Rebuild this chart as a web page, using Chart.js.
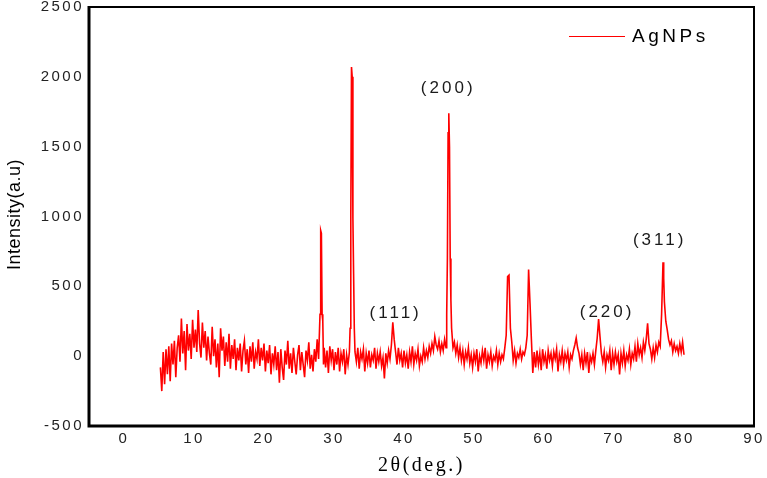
<!DOCTYPE html>
<html>
<head>
<meta charset="utf-8">
<script src="https://cdn.jsdelivr.net/npm/chart.js@4/dist/chart.umd.min.js"></script>
<style>
  html, body { margin: 0; padding: 0; background: #fff; }
  #wrap { width: 767px; height: 478px; }
</style>
</head>
<body>
<div id="wrap"><canvas id="xrdChart" width="767" height="478"></canvas></div>
<script>

// =====================================
// DATA
// =====================================

const twoTheta = [
    5.2, 5.4, 5.6, 5.8, 6.0, 6.2, 6.4, 6.6, 6.8, 7.0,
    7.2, 7.4, 7.6, 7.8, 8.0, 8.2, 8.4, 8.6, 8.8, 9.0,
    9.2, 9.4, 9.6, 9.8, 10.0, 10.2, 10.4, 10.6, 10.8, 11.0,
    11.2, 11.4, 11.6, 11.8, 12.0, 12.2, 12.4, 12.6, 12.8, 13.0,
    13.2, 13.4, 13.6, 13.8, 14.0, 14.2, 14.4, 14.6, 14.8, 15.0,
    15.2, 15.4, 15.6, 15.8, 16.0, 16.2, 16.4, 16.6, 16.8, 17.0,
    17.2, 17.4, 17.6, 17.8, 18.0, 18.2, 18.4, 18.6, 18.8, 19.0,
    19.2, 19.4, 19.6, 19.8, 20.0, 20.2, 20.4, 20.6, 20.8, 21.0,
    21.2, 21.4, 21.6, 21.8, 22.0, 22.2, 22.4, 22.6, 22.8, 23.0,
    23.2, 23.4, 23.6, 23.8, 24.0, 24.2, 24.4, 24.6, 24.8, 25.0,
    25.2, 25.4, 25.6, 25.8, 26.0, 26.2, 26.4, 26.6, 26.8, 27.0,
    27.2, 27.4, 27.6, 27.8, 28.0, 28.1, 28.2, 28.3, 28.4, 28.5,
    28.6, 28.8, 29.0, 29.2, 29.4, 29.6, 29.8, 30.0, 30.2, 30.4,
    30.6, 30.8, 31.0, 31.2, 31.4, 31.6, 31.8, 32.0, 32.2, 32.3,
    32.4, 32.5, 32.6, 32.7, 32.8, 32.9, 33.0, 33.2, 33.4, 33.6,
    33.8, 34.0, 34.2, 34.4, 34.6, 34.8, 35.0, 35.2, 35.4, 35.6,
    35.8, 36.0, 36.2, 36.4, 36.6, 36.8, 37.0, 37.2, 37.4, 37.6,
    37.8, 38.0, 38.2, 38.4, 38.6, 38.8, 39.0, 39.2, 39.4, 39.6,
    39.8, 40.0, 40.2, 40.4, 40.6, 40.8, 41.0, 41.2, 41.4, 41.6,
    41.8, 42.0, 42.2, 42.4, 42.6, 42.8, 43.0, 43.2, 43.4, 43.6,
    43.8, 44.0, 44.2, 44.4, 44.6, 44.8, 45.0, 45.2, 45.4, 45.6,
    45.8, 46.0, 46.1, 46.2, 46.3, 46.4, 46.5, 46.6, 46.7, 46.8,
    47.0, 47.2, 47.4, 47.6, 47.8, 48.0, 48.2, 48.4, 48.6, 48.8,
    49.0, 49.2, 49.4, 49.6, 49.8, 50.0, 50.2, 50.4, 50.6, 50.8,
    51.0, 51.2, 51.4, 51.6, 51.8, 52.0, 52.2, 52.4, 52.6, 52.8,
    53.0, 53.2, 53.4, 53.6, 53.8, 54.0, 54.2, 54.4, 54.6, 54.8,
    55.0, 55.2, 55.4, 55.6, 55.8, 56.0, 56.2, 56.4, 56.6, 56.8,
    57.0, 57.2, 57.4, 57.6, 57.8, 57.9, 58.0, 58.2, 58.4, 58.6,
    58.8, 59.0, 59.2, 59.4, 59.6, 59.8, 60.0, 60.2, 60.4, 60.6,
    60.8, 61.0, 61.2, 61.4, 61.6, 61.8, 62.0, 62.2, 62.4, 62.6,
    62.8, 63.0, 63.2, 63.4, 63.6, 63.8, 64.0, 64.2, 64.4, 64.6,
    64.8, 65.0, 65.2, 65.4, 65.6, 65.8, 66.0, 66.2, 66.4, 66.6,
    66.8, 67.0, 67.2, 67.4, 67.6, 67.8, 68.0, 68.2, 68.4, 68.6,
    68.8, 69.0, 69.2, 69.4, 69.6, 69.8, 70.0, 70.2, 70.4, 70.6,
    70.8, 71.0, 71.2, 71.4, 71.6, 71.8, 72.0, 72.2, 72.4, 72.6,
    72.8, 73.0, 73.2, 73.4, 73.6, 73.8, 74.0, 74.2, 74.4, 74.6,
    74.8, 75.0, 75.2, 75.4, 75.6, 75.8, 76.0, 76.2, 76.4, 76.6,
    76.8, 77.0, 77.1, 77.2, 77.4, 77.6, 77.8, 78.0, 78.2, 78.4,
    78.6, 78.8, 79.0, 79.2, 79.4, 79.6, 79.8, 80.0
];

const intensity = [
    -80, -250, 30, -200, 50, -130, 70, -180, 90, -60,
    110, -150, 60, 150, -40, 270, 20, 180, -100, 230,
    40, 160, -20, 260, 60, 190, 30, 330, 90, -10,
    240, 60, 180, -30, 140, 20, -60, 210, 0, 120,
    -80, 90, -150, 200, 40, 140, -70, 100, -40, 160,
    -90, 80, -20, 120, -100, 60, -30, 90, -110, 40,
    110, -60, 50, -120, 70, -40, 100, -90, 30, -20,
    120, -70, 60, -30, 90, -110, 40, -50, 80, -130,
    20, -60, 70, -100, 30, -190, 50, -80, -170, 40,
    -60, 110, -90, 20, -120, 60, -40, -130, 10, 80,
    -100, 30, -60, -150, 40, -30, 100, -90, 10, -110,
    50, -40, 120, -20, 300, 900, 880, 300, 250, -60,
    60, -80, 40, -120, 70, -30, 50, -100, 30, -60,
    60, -110, 20, -40, 50, -130, 10, -60, 30, 200,
    1000, 2070, 2000, 990, 590, 200, 30, -40, 60, -90,
    30, -20, 50, -110, 20, -50, 40, -80, 10, -30,
    60, -90, 20, -40, 30, -70, -10, -160, 20, -50,
    40, -20, 80, 243, 120, 30, -60, 60, -30, 20,
    -80, 40, -50, 10, -90, 30, -40, 70, -60, 20,
    -30, 50, -70, 0, -40, 60, -20, 40, -10, 70,
    20, 90, 40, 140, 80, 50, 110, 30, 90, 40,
    120, 60, 300, 700, 1600, 1740, 1500, 700, 400, 200,
    60, 100, 20, 80, -10, 60, -30, 40, -60, 30,
    -20, 60, -50, 10, -80, 20, -40, 50, -110, 0,
    -50, 40, -30, 60, -90, 10, -40, 30, -70, 0,
    -30, 40, -60, 20, -40, 10, -20, 60, 150, 570,
    580, 200, 100, -30, 40, -50, 20, -10, 50, -20,
    30, 10, 60, 150, 620, 500, 380, 120, -120, 30,
    -80, 40, -60, 20, -100, 50, -40, 10, -90, 40,
    -30, 20, -70, 30, -20, 50, -110, 10, -40, 40,
    -60, 20, -30, 30, -80, 10, -20, 40, 80, 130,
    60, 20, -60, 10, -100, 20, -50, 30, -120, 0,
    -40, 20, -60, 40, 130, 265, 140, 20, -40, 30,
    -80, 10, -30, 40, -100, 20, -60, 30, -40, 10,
    -130, 20, -50, 40, -70, 10, -30, 50, -60, 20,
    -20, 70, -40, 90, 10, 60, -10, 100, 40, 120,
    236, 90, 50, -20, 60, -10, 80, 30, 100, 70,
    300, 673, 560, 390, 250, 190, 120, 80, 110, 30,
    90, 40, 70, 20, 90, 30, 100, 10
];

const xTicks = [0, 10, 20, 30, 40, 50, 60, 70, 80, 90];
const yTicks = [-500, 0, 500, 1000, 1500, 2000, 2500];

// peak labels (hkl) and where they sit, in data units
const peakNames = ["(111)", "(200)", "(220)", "(311)"];
const peakNameX = [38.6, 46.1, 68.8, 76.3];
const peakNameY = [310, 1920, 315, 830];

const seriesName = "AgNPs";
const yTitle = "Intensity(a.u)";


// =====================================
// WIDE LETTERS FOR THE AXIS TEXT
// =====================================

const spacing = {

    id: "spacing",

    beforeDraw(chart){
        chart.ctx.letterSpacing = "2.5px";
    },

    afterDatasetsDraw(chart){
        chart.ctx.letterSpacing = "0px";
    }
};


// =====================================
// FRAME, LEGEND, Y TITLE, PEAK LABELS
// =====================================

const extras = {

    id: "extras",

    afterDraw(chart){

        const ctx = chart.ctx;
        const a = chart.chartArea;
        const xs = chart.scales.x;
        const ys = chart.scales.y;

        ctx.save();

        // box round the plot
        ctx.strokeStyle = "#000";
        ctx.lineWidth = 2;
        ctx.beginPath();
        ctx.moveTo(a.left, a.top);
        ctx.lineTo(a.right, a.top);
        ctx.lineTo(a.right, a.bottom);
        ctx.stroke();

        ctx.lineWidth = 3;
        ctx.beginPath();
        ctx.moveTo(a.left, a.top - 1);
        ctx.lineTo(a.left, a.bottom);
        ctx.lineTo(a.right + 1, a.bottom);
        ctx.stroke();

        // legend
        ctx.strokeStyle = "#ff0000";
        ctx.lineWidth = 1;
        ctx.beginPath();
        ctx.moveTo(569, 36.5);
        ctx.lineTo(625, 36.5);
        ctx.stroke();

        ctx.fillStyle = "#000";
        ctx.letterSpacing = "3.5px";
        ctx.font = "19px 'Liberation Sans', Arial, sans-serif";
        ctx.textAlign = "left";
        ctx.textBaseline = "middle";
        ctx.fillText(seriesName, 632, 37);

        // y title
        ctx.save();
        ctx.translate(15, (a.top + a.bottom) / 2 - 2);
        ctx.rotate(-Math.PI / 2);
        ctx.letterSpacing = "0.5px";
        ctx.font = "18px 'Liberation Sans', Arial, sans-serif";
        ctx.textAlign = "center";
        ctx.fillText(yTitle, 0, 0);
        ctx.restore();

        // peak labels
        ctx.fillStyle = "#1a1a1a";
        ctx.letterSpacing = "3px";
        ctx.font = "17px 'Liberation Sans', Arial, sans-serif";
        ctx.textAlign = "center";

        peakNames.forEach((name, i) => {

            ctx.fillText(
                name,
                xs.getPixelForValue(peakNameX[i]) + 1.5,
                ys.getPixelForValue(peakNameY[i])
            );
        });

        ctx.restore();
    }
};


// =====================================
// CHART
// =====================================

const xrdChart =
new Chart(

    document.getElementById(
        "xrdChart"
    ),

    {

        type: "line",

        data: {

            datasets: [{

                label: seriesName,

                data: twoTheta.map((t, i) => ({ x: t, y: intensity[i] })),

                borderColor: "#ff0000",

                borderWidth: 1.6,

                pointRadius: 0,

                tension: 0
            }]
        },

        options: {

            responsive: false,

            animation: false,

            layout: {
                padding: { top: 7, right: 13, bottom: 0, left: 0 }
            },

            plugins: {
                legend: { display: false },
                tooltip: { enabled: false }
            },

            scales: {

                x: {

                    type: "linear",

                    min: -5,
                    max: 90,

                    afterBuildTicks: (s) => {
                        s.ticks = xTicks.map(v => ({ value: v }));
                    },

                    afterFit: (s) => { s.height = 52; },

                    grid: { display: false, drawTicks: false },
                    border: { display: false },

                    ticks: {
                        color: "#222",
                        padding: 4,
                        maxRotation: 0,
                        callback: (v) => String(v),
                        font: { family: "'Liberation Sans', Arial, sans-serif", size: 15 }
                    },

                    title: {
                        display: true,
                        text: "2θ(deg.)",
                        color: "#000",
                        padding: { top: 3, bottom: 0 },
                        font: { family: "'Liberation Serif', 'Times New Roman', serif", size: 20 }
                    }
                },

                y: {

                    min: -500,
                    max: 2500,

                    afterBuildTicks: (s) => {
                        s.ticks = yTicks.map(v => ({ value: v }));
                    },

                    afterFit: (s) => {
                        s.width = 89;
                        s.paddingTop = 0;
                        s.paddingBottom = 0;
                    },

                    grid: { display: false, drawTicks: false },
                    border: { display: false },

                    ticks: {
                        color: "#222",
                        padding: 5,
                        callback: (v) => String(v),
                        font: { family: "'Liberation Sans', Arial, sans-serif", size: 15 }
                    }
                }
            }
        },

        plugins: [spacing, extras]
    }
);

</script>
</body>
</html>
